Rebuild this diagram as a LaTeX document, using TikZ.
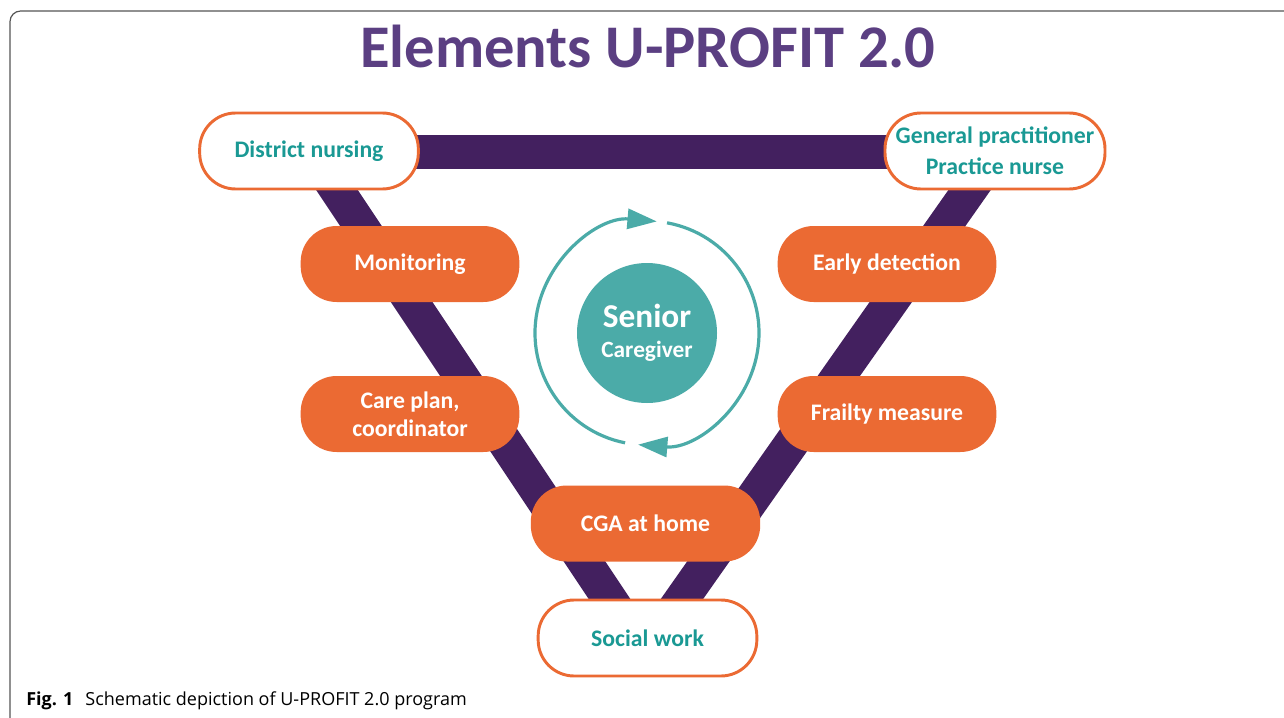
\documentclass[tikz,border=0pt]{standalone}
\usepackage{fontspec}
\setmainfont{Carlito}
\newfontfamily\capfont{Open Sans}
\usetikzlibrary{calc,arrows.meta,backgrounds}

\definecolor{barpurple}{HTML}{43205F}
\definecolor{titlepurple}{HTML}{5B3F82}
\definecolor{boxorange}{HTML}{EB6A33}
\definecolor{labelteal}{HTML}{1A9994}
\definecolor{ringteal}{HTML}{4BABA8}
\definecolor{framegray}{HTML}{555555}

\begin{document}
\begin{tikzpicture}[x=0.75pt,y=-0.75pt,
  pill/.style={rounded corners=27pt, minimum width=164pt, minimum height=57pt,
    inner sep=0pt, align=center, font=\bfseries\fontsize{17.8}{21}\selectfont},
  whitepill/.style={pill, draw=boxorange, line width=2.2pt, fill=white, text=labelteal},
  orangepill/.style={pill, fill=boxorange, text=white},
  bar/.style={draw=barpurple, line width=26pt},
  cyclearrow/.style={draw=ringteal, line width=2.4pt, -{Triangle[length=22pt,width=15pt]}}
]
\clip (0,0) rectangle (1284,717);

% outer frame of the figure panel
\draw[framegray, line width=0.9pt, rounded corners=8pt] (10,11) rectangle (1320,750);

% title
\node[anchor=base, text=titlepurple, font=\bfseries\fontsize{45.4}{50}\selectfont]
  (title) at (648,68) {Elements U-PROFIT 2.0};

% care partners (white) and programme elements (orange)
\node[whitepill] (dn) at (309,151) {District nursing};
\node[whitepill, minimum width=165pt] (gp) at (995,151) {General practitioner\\[2pt]Practice nurse};
\node[orangepill] (mon) at (410,264) {Monitoring};
\node[orangepill] (early) at (887,264) {Early detection};
\node[orangepill] (care) at (410,414) {Care plan,\\coordinator};
\node[orangepill] (frail) at (887,414) {Frailty measure};
\node[orangepill, minimum width=172pt] (cga) at (645.5,523.5) {CGA at home};
\node[whitepill] (sw) at (647.5,638) {Social work};

% senior and caregiver at the centre
\node[circle, fill=ringteal, minimum size=105pt, inner sep=0pt, text=white,
  align=center, font=\bfseries] (sc) at (647,333)
  {{\fontsize{25}{28}\selectfont Senior}\\[9pt]{\fontsize{17.5}{21}\selectfont Caregiver}};

% circular cycle around the centre
\draw[cyclearrow] ($(sc.center)+(101.3:112)$) arc[start angle=101.3, end angle=275, radius=112];
\draw[cyclearrow] ($(sc.center)+(-79.7:112)$) arc[start angle=-79.7, end angle=94.6, radius=112];

% connecting bands behind the boxes
\begin{scope}[on background layer]
  \fill[white] (0,0) rectangle (1284,717);
  \draw[bar] ($(dn.center)+(0,1)$) -- ($(gp.center)+(0,1)$);
  \draw[bar] ($(dn.center)+(2,0)$) -- ($(sw.center)+(-12,0)$);
  \draw[bar] ($(gp.center)+(2,0)$) -- ($(sw.center)+(7,0)$);
\end{scope}

% caption
\node[anchor=base west, inner sep=0pt, font=\capfont\fontsize{13.5}{16}\selectfont]
  (caption) at (26,705) {\textbf{Fig. 1}\hspace{9pt}Schematic depiction of U-PROFIT 2.0 program};
\end{tikzpicture}
\end{document}
